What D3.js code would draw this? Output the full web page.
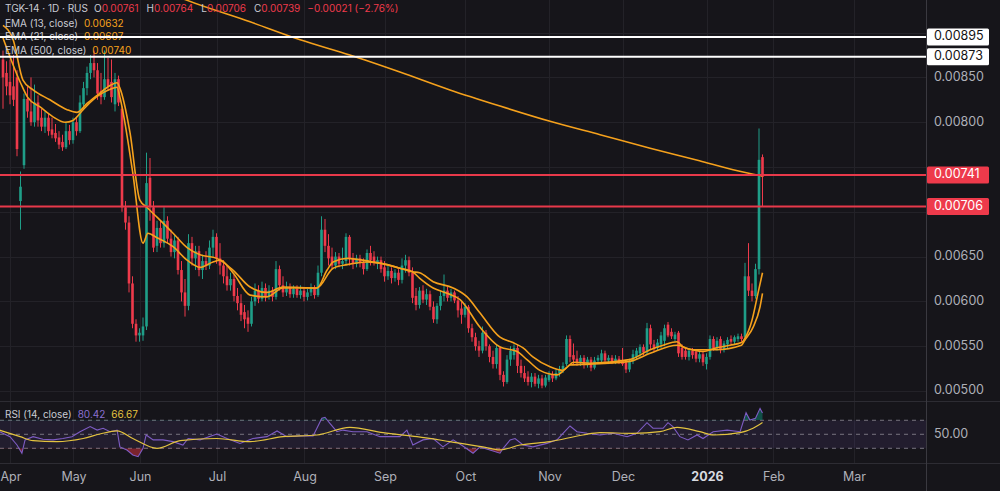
<!DOCTYPE html>
<html>
<head>
<meta charset="utf-8">
<script src="https://cdn.jsdelivr.net/npm/d3@7"></script>
<style>
html, body { margin: 0; padding: 0; background: #16151a; }
svg { display: block; font-family: "Inter", "Noto Sans", sans-serif; }
</style>
</head>
<body>
<script>
// prices are kept in units of 0.00001 RUB, bars are daily (index from the first visible bar)
const ohlc = [
  [870,880,815,850],[855,868,830,840],[845,870,820,830],[840,875,818,825],[850,858,762,770],
  [712,745,680,728],[752,832,748,826],[826,840,805,812],[812,850,796,800],[800,842,795,822],
  [822,830,795,802],[805,815,790,795],[795,812,788,805],[805,810,785,790],[792,805,782,786],
  [788,798,778,782],[783,790,770,775],[778,786,768,772],[772,800,770,790],[790,797,775,780],
  [780,805,776,800],[800,806,785,790],[790,830,788,822],[820,845,815,838],[838,862,830,855],
  [855,875,848,866],[866,880,850,858],[858,866,825,832],[835,855,820,828],[828,880,825,848],
  [848,872,835,840],[845,870,822,828],[820,855,812,848],[848,852,818,822],[815,818,700,705],
  [705,712,680,688],[688,695,610,620],[620,628,570,575],[575,580,555,562],[562,570,555,565],
  [562,582,556,572],[572,766,568,732],[738,760,690,706],[705,712,655,660],[662,690,655,682],
  [682,690,660,665],[665,705,660,690],[690,695,665,670],[670,680,650,655],[655,675,648,668],
  [668,672,630,635],[635,645,600,610],[610,625,583,595],[595,675,590,665],[665,672,640,648],
  [648,662,635,656],[656,662,628,635],[635,652,625,645],[645,656,635,640],[640,668,636,660],
  [660,680,650,672],[672,676,642,648],[648,665,630,640],[640,646,620,628],[628,640,612,618],
  [618,632,612,625],[625,630,600,606],[606,615,590,598],[598,608,578,585],[588,596,570,580],
  [582,590,566,575],[575,605,572,600],[600,620,595,612],[612,618,598,603],[603,622,600,615],
  [615,620,600,606],[606,618,602,612],[612,616,600,605],[605,645,602,636],[636,640,612,618],
  [618,628,605,610],[610,622,606,616],[616,620,604,608],[608,618,604,614],[614,618,604,607],
  [607,618,603,612],[612,616,600,605],[605,614,601,610],[610,620,606,615],[615,618,603,607],
  [607,640,605,632],[632,695,628,680],[680,692,655,662],[662,675,640,648],[650,660,636,640],
  [640,655,636,650],[650,654,638,642],[642,660,636,645],[645,676,640,672],[672,674,640,648],
  [648,654,636,642],[642,652,638,648],[648,652,638,643],[643,648,630,636],[636,658,634,654],
  [654,662,640,646],[650,656,640,643],[643,650,636,646],[646,650,632,636],[638,645,622,628],
  [628,640,624,634],[634,638,620,626],[626,636,622,632],[632,636,618,624],[624,648,620,640],
  [640,652,632,646],[646,650,628,632],[632,638,598,604],[606,615,590,596],[596,616,592,612],
  [612,618,598,602],[602,614,596,608],[608,612,590,594],[594,600,576,580],[580,598,575,595],
  [595,612,590,606],[606,630,600,612],[612,616,600,604],[604,614,600,610],[610,612,598,601],
  [601,606,582,590],[592,600,575,585],[585,598,582,594],[594,596,565,570],[570,575,555,560],
  [560,565,545,550],[550,556,538,545],[545,572,542,565],[565,568,545,550],[550,552,532,538],
  [538,545,525,530],[530,552,525,548],[548,550,512,518],[518,522,505,510],[510,540,508,535],
  [535,550,528,545],[540,552,535,548],[548,552,520,528],[528,535,515,520],[520,528,510,514],
  [516,522,506,510],[510,520,504,516],[516,520,505,508],[508,518,503,514],[514,518,503,506],
  [506,518,504,515],[512,522,510,518],[518,522,510,514],[514,524,512,520],[520,528,516,524],
  [524,532,520,528],[530,562,528,558],[558,562,532,538],[540,553,530,535],[536,545,528,532],
  [532,540,528,537],[537,540,525,529],[529,538,526,535],[535,538,522,526],[526,538,524,534],
  [534,540,530,537],[534,546,532,542],[542,545,530,534],[534,540,530,537],[537,540,530,533],
  [533,540,530,536],[536,539,530,532],[534,548,528,530],[532,535,520,524],[524,536,521,533],
  [533,546,530,541],[538,548,535,545],[542,552,538,549],[549,552,540,543],[543,576,540,570],
  [570,574,546,552],[552,557,544,548],[548,558,545,554],[552,566,548,562],[556,574,550,570],
  [574,577,560,562],[566,570,558,561],[558,566,555,563],[565,567,538,542],[548,552,535,538],
  [545,549,535,538],[538,548,534,545],[545,548,536,540],[544,546,532,536],[536,544,532,541],
  [541,545,528,532],[530,542,524,538],[538,562,535,558],[558,561,545,548],[548,560,545,556],
  [558,561,542,546],[546,556,543,553],[552,560,548,557],[558,562,552,555],[555,562,552,560],
  [558,564,555,561],[561,564,555,558],[560,643,556,628],[628,665,606,612],[612,620,600,606],
  [606,642,603,636],[636,793,630,758],[761,764,706,739]
];

// moving averages: [bar index, value]
const ema13 = [[0,894],[5,844],[7,828],[10.6,817],[14.3,806],[17.7,800],[20,802],[22.9,814],[25.7,825],
  [28.6,833],[31.4,838],[32.6,839],[33.4,828],[37.1,743],[40,665],[41.4,676],[44,671],[48.6,661],
  [52.6,646],[56.3,638],[60,644],[62,646],[65.7,632],[70.6,607],[75.4,605],[80,615],[84.9,615],
  [89.7,615],[92.6,635],[94.3,644],[98.3,648],[105.7,644],[109.7,641],[113.4,637],[117,633],
  [119,626],[122.9,615],[126.9,609],[130.6,602],[136.3,571],[142,549],[146.9,544],[149.7,535],
  [153.4,523],[158.3,518],[161,526],[163.1,532],[167.7,531],[179,535],[184.9,546],[188.6,551],
  [192.6,555],[194.3,549],[197,546],[200,544],[203.7,548],[207.7,551],[211,554],[212,559],
  [214,579],[215.7,609],[217,632]];
const ema21 = [[0,908],[2.9,892],[5.7,847],[8.6,836],[13.4,825],[18.3,814],[21.1,811],[24,821],
  [26.9,830],[30.6,841],[32.6,844],[33.4,838],[36.3,788],[39.1,713],[41.1,705],[44,694],[48.6,676],
  [52.6,660],[56.3,652],[61.1,648],[65.7,635],[70.6,616],[75.4,610],[80,616],[89.7,615],[94.3,637],
  [98.3,641],[104,644],[109.7,641],[113.4,637],[117,633],[119,632],[122.9,622],[128.6,615],
  [132.6,605],[136.3,587],[142,560],[145.7,554],[148.6,548],[151.4,538],[156.3,527],[160,523],
  [162,529],[167.7,530],[179,533],[184.9,542],[192.6,551],[197,546],[203.7,546],[211,551],
  [212,557],[214.3,571],[216.3,594],[217,609]];
const ema500 = [[42,953],[52.6,936],[70.6,912],[84.9,892],[99.1,875],[113.4,856],[127.7,836],
  [142,818],[156.3,801],[170.6,786],[184.9,771],[199,757],[208.6,747],[217,740]];

const rsi = [[-1,53.7],[2,46.6],[4,34.7],[5.4,23],[6.3,42],[8.6,46.6],[11.4,43],[14.3,42],[17.1,44],
  [19.7,46.6],[22,53.7],[24.9,61],[26.9,56],[28.6,58.6],[30.6,53.7],[32.6,56],[33.4,32],[35.4,27.6],
  [37.1,20.4],[38.6,18],[40,30],[40.9,49],[42.9,42],[45.7,42],[48.6,39.5],[51.4,34.7],[52.9,44],
  [56.3,42],[61.1,50.4],[64,44],[67.7,37],[71.4,44],[75.4,46.6],[78.3,54.7],[81.1,46.6],[84.9,47.6],
  [88.6,47.6],[91.1,72.8],[92,74.3],[93.4,65.7],[95.4,53.7],[97.1,56],[100,53.7],[104,53.7],
  [107.7,46.6],[110.6,46.6],[113.4,46.6],[115.4,56],[117.1,34.7],[120,42],[122.9,44],[125.7,32],
  [128.6,42],[131.4,33.3],[134.3,22.9],[136.3,32],[139.1,27.6],[142,23],[142.9,30],[144.9,42],
  [146.3,44],[148.6,34.7],[151.4,32],[155.4,37],[158.3,42],[160,51.4],[162,61.9],[164,53.7],
  [166.9,51.4],[170.6,49],[174.3,51.4],[178.3,46.6],[181.1,51.4],[184,66.6],[185.7,58.6],
  [188.6,58.6],[190,66.6],[191.4,60.9],[193.4,46.6],[195.7,42],[198.3,49],[200,44],[202.9,53.7],
  [206.9,56],[210.6,53.7],[212.3,80.9],[213.4,70.4],[215,72.8],[216.3,87],[217,80.4]];
const rsiMa = [[-1,56],[4.9,46.6],[8.6,40.9],[15.4,39.5],[22.9,44],[27.7,50.4],[32.6,55],[37.1,44],
  [44,30],[50.6,40.9],[61.1,44],[70.6,39.5],[80,46.6],[89.7,49],[99.1,60],[108.6,52.3],[118.3,46.6],
  [127.7,39.5],[137.1,32],[142,27.6],[147.7,34.7],[156.3,39.5],[165.7,49],[170.6,52.3],[180,51.4],
  [187.7,53.7],[192.6,60],[199.1,53.7],[203.1,49],[210.6,52.3],[214.3,58.6],[217,66.7]];

const monthIdx = [2, 20, 39, 61, 86, 109, 132, 156, 177, 201, 220, 243];
const monthLabels = ["Apr", "May", "Jun", "Jul", "Aug", "Sep", "Oct", "Nov", "Dec", "2026", "Feb", "Mar"];
const priceTicks = [500, 550, 600, 650, 700, 750, 800, 850, 900];
const whiteLevels = [895, 873];
const redLevels = [741, 706];
const rsiLevels = [70, 50, 30];

const W = 1000, H = 491;
const axisX = 926, mainBottom = 401, rsiTop = 402, rsiBottom = 463;
const upColor = "#1f9e88", downColor = "#ee3a4b", emaColor = "#f5a11c";
const fmt = v => (v / 100000).toFixed(5);

const svg = d3.select("body").append("svg").attr("width", W).attr("height", H);

const x = d3.scaleLinear().domain([0, 264]).range([3, 927]);
const y = d3.scaleLinear().domain([488.8, 936.4]).range([mainBottom, 0]);
const yr = d3.scaleLinear().domain([9, 96.1]).range([rsiBottom, rsiTop]);

const defs = svg.append("defs");
defs.append("clipPath").attr("id", "clipMain").append("rect")
  .attr("x", 0).attr("y", 0).attr("width", axisX).attr("height", mainBottom);
defs.append("clipPath").attr("id", "clipRsi").append("rect")
  .attr("x", 0).attr("y", rsiTop).attr("width", axisX).attr("height", rsiBottom - rsiTop);
defs.append("clipPath").attr("id", "clipLow").append("rect")
  .attr("x", 0).attr("y", yr(30)).attr("width", axisX).attr("height", rsiBottom - yr(30));
defs.append("clipPath").attr("id", "clipHigh").append("rect")
  .attr("x", 0).attr("y", rsiTop).attr("width", axisX).attr("height", yr(70) - rsiTop);

// grid
const grid = svg.append("g").attr("stroke", "#232228").attr("stroke-width", 1);
grid.selectAll("line.h").data(priceTicks).join("line")
  .attr("x1", 0).attr("x2", axisX)
  .attr("y1", d => Math.round(y(d)) + 0.5).attr("y2", d => Math.round(y(d)) + 0.5);
grid.selectAll("line.v").data(monthIdx).join("line")
  .attr("x1", d => Math.round(x(d)) + 0.5).attr("x2", d => Math.round(x(d)) + 0.5)
  .attr("y1", 0).attr("y2", rsiBottom);

// candles
const main = svg.append("g").attr("clip-path", "url(#clipMain)");
const col = d => d[3] >= d[0] ? upColor : downColor;
main.selectAll("line.wick").data(ohlc).join("line")
  .attr("x1", (d, i) => x(i)).attr("x2", (d, i) => x(i))
  .attr("y1", d => y(d[1])).attr("y2", d => y(d[2]))
  .attr("stroke", col).attr("stroke-width", 1);
main.selectAll("rect.body").data(ohlc).join("rect")
  .attr("x", (d, i) => x(i) - 1.3).attr("width", 2.6)
  .attr("y", d => y(Math.max(d[0], d[3])))
  .attr("height", d => Math.max(1, Math.abs(y(d[0]) - y(d[3]))))
  .attr("fill", col);

// EMA lines
const emaLine = d3.line().x(d => x(d[0])).y(d => y(d[1])).curve(d3.curveMonotoneX);
[ema500, ema21, ema13].forEach(s => {
  main.append("path").attr("d", emaLine(s)).attr("fill", "none")
    .attr("stroke", emaColor).attr("stroke-width", 1.6);
});

// legend (flowing tspans so nothing collides)
const leg = svg.append("g").attr("font-size", "10px").attr("fill", "#c9cbd3");
const row1 = leg.append("text").attr("x", 5).attr("y", 9).attr("dominant-baseline", "middle");
const r1 = [["TGK-14 · 1D · RUS", 0, "#c9cbd3"], ["O", 6, "#c9cbd3"], ["0.00761", 0, downColor],
  ["H", 8, "#c9cbd3"], ["0.00764", 0, downColor], ["L", 8, "#c9cbd3"], ["0.00706", 0, downColor],
  ["C", 8, "#c9cbd3"], ["0.00739", 0, downColor], ["−0.00021 (−2.76%)", 7, downColor]];
r1.forEach(t => row1.append("tspan").attr("dx", t[1]).attr("fill", t[2]).text(t[0]));
const emaLegend = [["EMA (13, close)", "0.00632", 23.5], ["EMA (21, close)", "0.00607", 37], ["EMA (500, close)", "0.00740", 50.5]];
emaLegend.forEach(t => {
  const tx = leg.append("text").attr("x", 5).attr("y", t[2]).attr("dominant-baseline", "middle");
  tx.append("tspan").text(t[0]);
  tx.append("tspan").attr("dx", 6).attr("fill", emaColor).text(t[1]);
});

// horizontal levels
svg.selectAll("line.white").data(whiteLevels).join("line")
  .attr("x1", 0).attr("x2", axisX).attr("y1", d => y(d)).attr("y2", d => y(d))
  .attr("stroke", "#ffffff").attr("stroke-width", 2);
svg.selectAll("line.red").data(redLevels).join("line")
  .attr("x1", 0).attr("x2", axisX).attr("y1", d => y(d)).attr("y2", d => y(d))
  .attr("stroke", "#e8394a").attr("stroke-width", 2);

// RSI pane
const rsiG = svg.append("g").attr("clip-path", "url(#clipRsi)");
rsiG.append("rect").attr("x", 0).attr("width", axisX)
  .attr("y", yr(70)).attr("height", yr(30) - yr(70)).attr("fill", "rgba(126,87,194,0.12)");
rsiG.selectAll("line.lvl").data(rsiLevels).join("line")
  .attr("x1", 0).attr("x2", axisX).attr("y1", d => yr(d)).attr("y2", d => yr(d))
  .attr("stroke", "#77737f").attr("stroke-width", 1).attr("stroke-dasharray", "4,4");
rsiG.append("path").attr("clip-path", "url(#clipLow)")
  .attr("d", d3.area().x(d => x(d[0])).y0(yr(30)).y1(d => yr(d[1]))(rsi))
  .attr("fill", "rgba(242,54,69,0.45)");
rsiG.append("path").attr("clip-path", "url(#clipHigh)")
  .attr("d", d3.area().x(d => x(d[0])).y0(yr(70)).y1(d => yr(d[1]))(rsi))
  .attr("fill", "rgba(8,153,129,0.45)");
const rsiLine = d3.line().x(d => x(d[0])).y(d => yr(d[1]));
rsiG.append("path").attr("d", rsiLine(rsi)).attr("fill", "none")
  .attr("stroke", "#7e5cc4").attr("stroke-width", 1.1);
rsiG.append("path").attr("d", rsiLine.curve(d3.curveMonotoneX)(rsiMa)).attr("fill", "none")
  .attr("stroke", "#e3c33f").attr("stroke-width", 1.2);
const rsiText = svg.append("text").attr("x", 5).attr("y", 414.5)
  .attr("dominant-baseline", "middle").attr("font-size", "10px").attr("fill", "#c9cbd3");
rsiText.append("tspan").text("RSI (14, close)");
rsiText.append("tspan").attr("dx", 6).attr("fill", "#8a6fd0").text("80.42");
rsiText.append("tspan").attr("dx", 6).attr("fill", "#e3c33f").text("66.67");

// separators
svg.append("line").attr("x1", 0).attr("x2", W).attr("y1", mainBottom + 0.5).attr("y2", mainBottom + 0.5)
  .attr("stroke", "#2d2c33");
svg.append("line").attr("x1", 0).attr("x2", W).attr("y1", rsiBottom + 0.5).attr("y2", rsiBottom + 0.5)
  .attr("stroke", "#2d2c33");
svg.append("line").attr("x1", axisX + 0.5).attr("x2", axisX + 0.5).attr("y1", 0).attr("y2", H)
  .attr("stroke", "#3a3940");

// price axis: plain ticks are skipped where a level badge sits on them
const badgeLevels = whiteLevels.concat(redLevels);
const pAxis = svg.append("g").attr("font-size", "12.5px");
pAxis.selectAll("text.tick")
  .data(priceTicks.filter(v => y(v) > 8 && y(v) < mainBottom - 4 &&
    badgeLevels.every(b => Math.abs(y(b) - y(v)) > 14)))
  .join("text")
  .attr("x", 934).attr("y", d => y(d)).attr("dominant-baseline", "middle")
  .attr("fill", "#aeb0b8").text(fmt);
svg.append("text").attr("x", 934).attr("y", yr(50)).attr("dominant-baseline", "middle")
  .attr("font-size", "12.5px").attr("fill", "#aeb0b8").text("50.00");

const badge = (v, bg, fg) => {
  pAxis.append("rect").attr("x", 927).attr("y", y(v) - 8.5).attr("width", 62).attr("height", 17)
    .attr("rx", 1.5).attr("fill", bg);
  pAxis.append("text").attr("x", 934).attr("y", y(v)).attr("dominant-baseline", "middle")
    .attr("fill", fg).text(fmt(v));
};
whiteLevels.forEach(v => badge(v, "#ffffff", "#131313"));
redLevels.forEach(v => badge(v, "#ee3a4b", "#ffffff"));

// time axis
svg.append("g").selectAll("text").data(monthIdx).join("text")
  .attr("x", d => x(d) + 1).attr("y", 477.5).attr("text-anchor", "middle")
  .attr("dominant-baseline", "middle").attr("font-size", "12.5px")
  .attr("font-weight", (d, i) => monthLabels[i] === "2026" ? "bold" : "normal")
  .attr("fill", (d, i) => monthLabels[i] === "2026" ? "#d8dae0" : "#aeb0b8")
  .text((d, i) => monthLabels[i]);
</script>
</body>
</html>
